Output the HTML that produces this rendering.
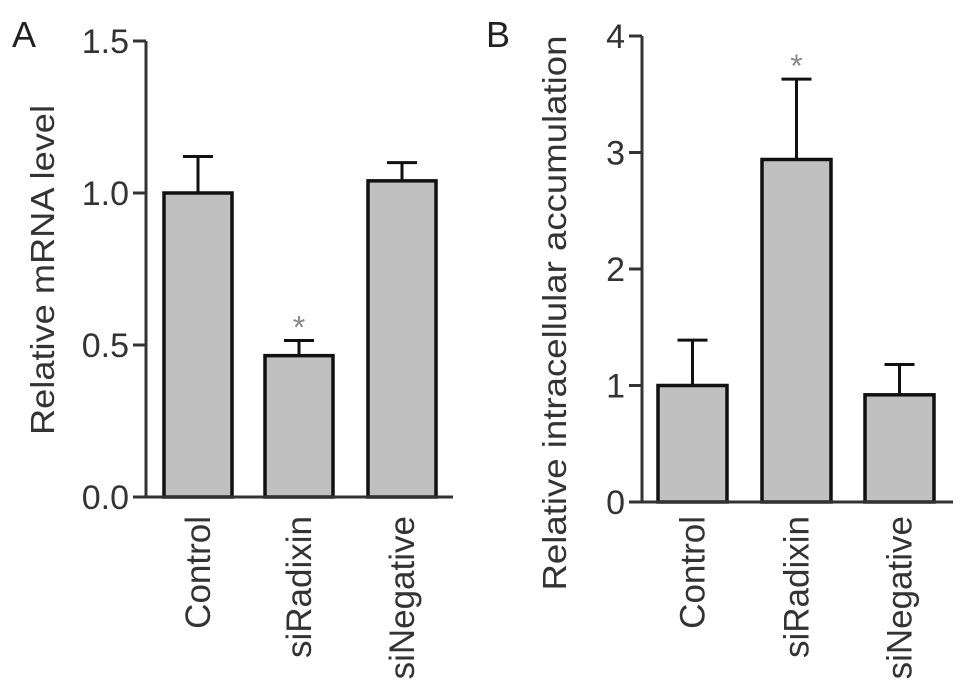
<!DOCTYPE html>
<html><head><meta charset="utf-8"><style>
html,body{margin:0;padding:0;background:#fff;}
svg{display:block;font-family:"Liberation Sans",sans-serif;}
</style></head><body>
<svg id="chart" width="969" height="692" viewBox="0 0 969 692"></svg>
<script>
const categories = ["Control", "siRadixin", "siNegative"];
const meanA = [1.0, 0.465, 1.04];
const errA = [0.12, 0.05, 0.06];
const ticksA = ["0.0", "0.5", "1.0", "1.5"];
const meanB = [1.0, 2.94, 0.92];
const errB = [0.39, 0.69, 0.26];
const ticksB = ["0", "1", "2", "3", "4"];
const sigA = [false, true, false];
const sigB = [false, true, false];

const NS = "http://www.w3.org/2000/svg";
const svg = document.getElementById('chart');
function mk(tag, attrs, parent) {
  const e = document.createElementNS(NS, tag);
  for (const k in attrs) e.setAttribute(k, attrs[k]);
  (parent || svg).appendChild(e);
  return e;
}
function panel(cfg) {
  const g = mk('g', {});
  
  
  const ymax = parseFloat(cfg.ticks[cfg.ticks.length - 1]);
  const y = v => cfg.y0 - (v / ymax) * (cfg.y0 - cfg.y1);
  const x = i => cfg.xs[i];
  cfg.means.forEach((m, i) => {
    const top = y(m + cfg.errs[i]);
    const eb = mk('g', {}, g);
    
    
    const cx = x(i) + cfg.bw / 2;
    mk('line', {x1: cx, x2: cx, y1: y(m), y2: top, stroke: '#111', 'stroke-width': 3}, eb);
    mk('line', {x1: cx - 15, x2: cx + 15, y1: top, y2: top, stroke: '#111', 'stroke-width': 3}, eb);
    const r = mk('rect', {x: x(i), y: y(m), width: cfg.bw, height: cfg.y0 - y(m), fill: '#c0c0c0', stroke: '#111', 'stroke-width': 3.5}, g);
    
    
    if (cfg.sig[i]) {
      const t = mk('text', {x: cx, y: top - 2, 'text-anchor': 'middle', 'font-size': 32, fill: '#888'}, g);
      t.textContent = '*';
      
      
    }
    const lx = cx + 12;
    const lab = mk('text', {x: lx, y: 516, transform: `rotate(-90 ${lx} 516)`, 'text-anchor': 'end', 'font-size': 35, fill: '#333'}, g);
    lab.textContent = categories[i];
    
    
  });
  const ax = mk('line', {x1: cfg.ax, x2: cfg.ax, y1: cfg.y1, y2: cfg.y0, stroke: '#333', 'stroke-width': 3}, g);
  
  
  const bl = mk('line', {x1: cfg.ax - 13, x2: cfg.bx2, y1: cfg.y0, y2: cfg.y0, stroke: '#333', 'stroke-width': 3}, g);
  
  
  cfg.ticks.forEach(tk => {
    const v = parseFloat(tk);
    mk('line', {x1: cfg.ax - 13, x2: cfg.ax, y1: y(v), y2: y(v), stroke: '#333', 'stroke-width': 3}, g);
    const t = mk('text', {x: cfg.ax - 17, y: y(v) + 12, 'text-anchor': 'end', 'font-size': 34, fill: '#333'}, g);
    t.textContent = tk;
    
    
  });
  const tt = mk('text', {x: cfg.tx, y: cfg.ty, transform: `rotate(-90 ${cfg.tx} ${cfg.ty})`, 'text-anchor': 'middle', 'font-size': 33, fill: '#333', textLength: cfg.tlen, lengthAdjust: 'spacingAndGlyphs'}, g);
  tt.textContent = cfg.title;
  
  
  const pl = mk('text', {x: cfg.px, y: 47, 'font-size': 36, fill: '#222'}, g);
  pl.textContent = cfg.letter;
  
  
}
panel({name: 'panel-a', means: meanA, errs: errA, ticks: ticksA, sig: sigA,
  y0: 497, y1: 41, ax: 146, bx2: 453, xs: [164, 265, 368], bw: 68,
  title: 'Relative mRNA level', tx: 54, ty: 270, tlen: 330, letter: 'A', px: 12});
panel({name: 'panel-b', means: meanB, errs: errB, ticks: ticksB, sig: sigB,
  y0: 502, y1: 36, ax: 642, bx2: 953, xs: [658, 762, 865], bw: 69,
  title: 'Relative intracellular accumulation', tx: 566, ty: 313, tlen: 555, letter: 'B', px: 486});
</script>
</body></html>
